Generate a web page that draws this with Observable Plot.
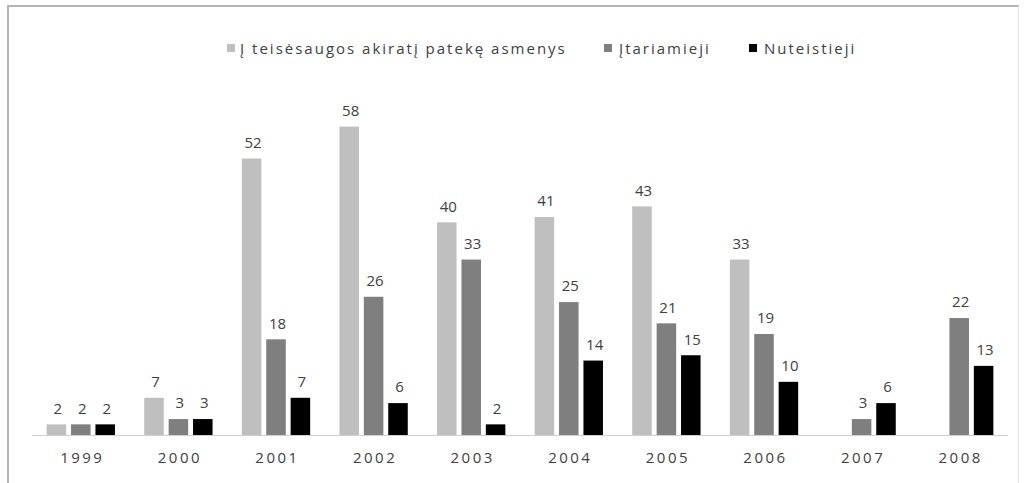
<!DOCTYPE html>
<html>
<head>
<meta charset="utf-8">
<script src="https://cdn.jsdelivr.net/npm/d3@7"></script>
<script src="https://cdn.jsdelivr.net/npm/@observablehq/plot@0.6"></script>
<style>
  html, body { margin: 0; padding: 0; background: #fff; }
  body { width: 1024px; height: 483px; position: relative; overflow: hidden; font-family: "Open Sans", sans-serif; }
  #frame { position: absolute; left: 7px; top: 5px; width: 1012px; height: 490px; border-left: 2px solid #b4b4b4; border-top: 2px solid #b4b4b4; border-right: 1px solid #e4e4e4; box-sizing: border-box; }
  #legend { position: absolute; left: 0; top: 0; width: 1024px; height: 70px; }
  .sw { position: absolute; top: 44px; width: 8px; height: 8px; }
  .lt { position: absolute; top: 38px; font-size: 15px; line-height: 20px; letter-spacing: 2px; color: #404040; white-space: nowrap; }
  #chart { position: absolute; left: 0; top: 70px; }
</style>
</head>
<body>
<div id="frame"></div>
<div id="legend"></div>
<div id="chart"></div>
<script>
const years = ["1999","2000","2001","2002","2003","2004","2005","2006","2007","2008"];
const seriesNames = ["Į teisėsaugos akiratį patekę asmenys", "Įtariamieji", "Nuteistieji"];
const seriesColors = ["#bfbfbf", "#7f7f7f", "#000000"];
const asmenys = [2, 7, 52, 58, 40, 41, 43, 33, null, null];
const itariamieji = [2, 3, 18, 26, 33, 25, 21, 19, 3, 22];
const nuteistieji = [2, 3, 7, 6, 2, 14, 15, 10, 6, 13];

const seriesValues = [asmenys, itariamieji, nuteistieji];
const data = [];
seriesNames.forEach((s, si) => {
  years.forEach((y, yi) => {
    const v = seriesValues[si][yi];
    if (v != null) data.push({year: y, series: s, value: v});
  });
});

// legend
const legend = document.getElementById("legend");
const swatchX = [227, 604, 749];
const textX = [240, 619, 764];
seriesNames.forEach((s, i) => {
  const sw = document.createElement("div");
  sw.className = "sw";
  sw.style.left = swatchX[i] + "px";
  sw.style.background = seriesColors[i];
  legend.appendChild(sw);
  const t = document.createElement("div");
  t.className = "lt";
  t.style.left = textX[i] + "px";
  t.textContent = s;
  legend.appendChild(t);
});

const chart = Plot.plot({
  width: 1024,
  height: 413,
  marginLeft: 32,
  marginRight: 16,
  marginTop: 46,
  marginBottom: 48,
  fx: {domain: years, paddingInner: 0, paddingOuter: 0, round: false, label: null, axis: null},
  x: {domain: seriesNames, paddingInner: 0.2, paddingOuter: 0.6, round: false, axis: null},
  y: {domain: [0, 60], axis: null},
  color: {domain: seriesNames, range: seriesColors},
  style: {fontFamily: "Open Sans, sans-serif", fontSize: "15px", color: "#404040"},
  marks: [
    Plot.barY(data, {fx: "year", x: "series", y: "value", fill: "series"}),
    Plot.text(data, {fx: "year", x: "series", y: "value", text: d => String(d.value), dy: -16, dx: 1, fill: "#404040", fontSize: 15, letterSpacing: 2}),
    Plot.ruleY([0], {stroke: "#d0d0d0", strokeWidth: 1.2}),
    Plot.axisFx({anchor: "bottom", tickSize: 0, tickPadding: 17, fontSize: 15, color: "#404040", label: null, dx: 1})
  ]
});
chart.querySelectorAll("[aria-label='fx-axis tick label'] text, g[aria-label='fx-axis tick label']").forEach(el => el.setAttribute("letter-spacing", "2.5"));
document.getElementById("chart").appendChild(chart);
</script>
</body>
</html>
